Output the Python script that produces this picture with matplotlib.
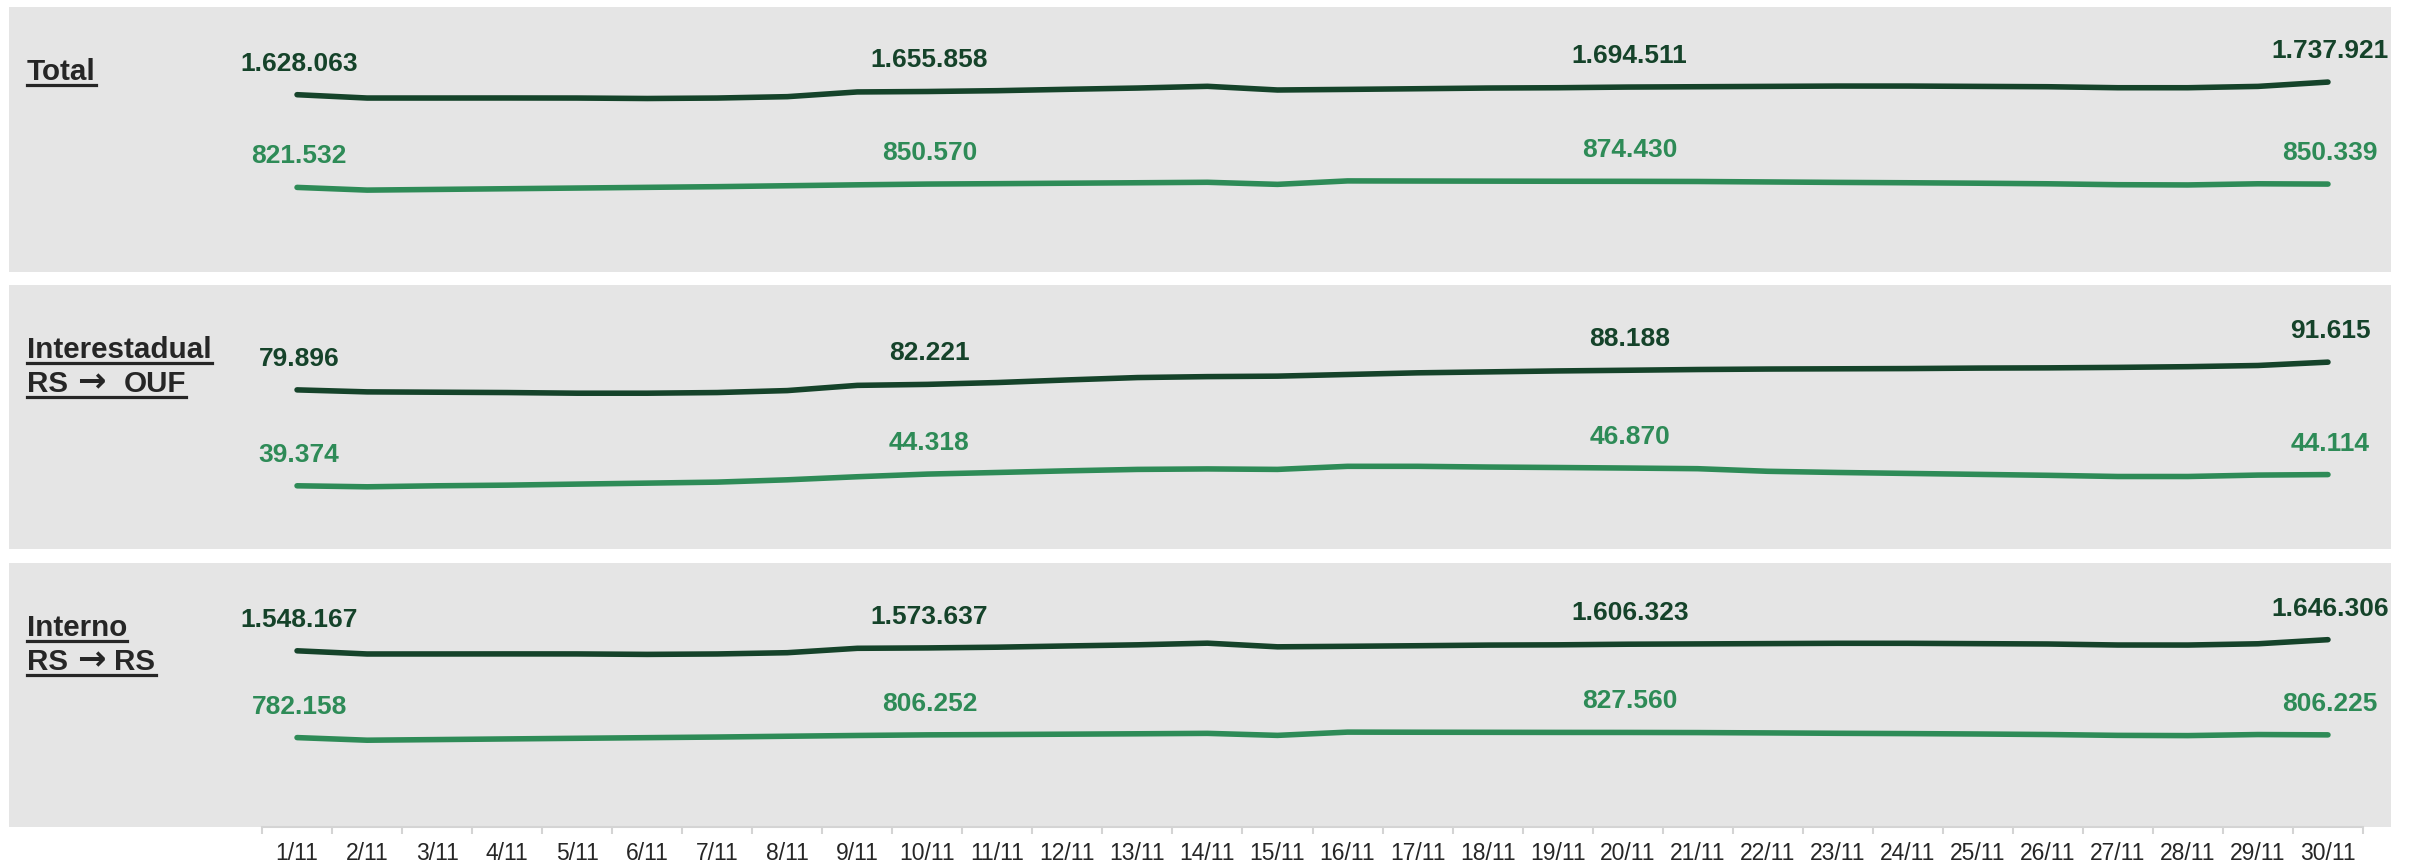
import matplotlib
matplotlib.use("Agg")
import matplotlib.pyplot as plt
from matplotlib.lines import Line2D

plt.rcParams["font.family"] = ["Liberation Sans", "DejaVu Sans"]

# daily values, November
days = list(range(1, 31))
day_labels = [f"{d}/11" for d in days]
label_days = [1, 10, 20, 30]

total_dark = [1628063, 1599100, 1599100, 1599500, 1599000, 1595000, 1599000, 1611000, 1652000, 1655858,
              1663000, 1675000, 1686000, 1701000, 1669000, 1674200, 1680000, 1686000, 1688700, 1694511,
              1697400, 1700300, 1703200, 1703200, 1700300, 1697400, 1688700, 1688700, 1700300, 1737921]
total_light = [821532, 798000, 804000, 810000, 816000, 822000, 828000, 836000, 844000, 850570,
               854000, 858000, 862000, 866000, 848000, 878000, 877000, 876000, 875000, 874430,
               873000, 869000, 865000, 862000, 858000, 853000, 845000, 843000, 853000, 850339]

inter_dark = [79896, 79050, 78910, 78770, 78490, 78490, 78770, 79600, 81800, 82221,
              83000, 84100, 85100, 85500, 85700, 86400, 87100, 87500, 87900, 88188,
              88500, 88700, 88800, 88900, 89100, 89200, 89400, 89700, 90200, 91615]
inter_light = [39374, 38950, 39374, 39650, 40090, 40500, 40930, 41900, 43200, 44318,
               45000, 45700, 46300, 46500, 46300, 47600, 47600, 47300, 47100, 46870,
               46600, 45500, 45000, 44600, 44200, 43800, 43300, 43300, 43900, 44114]

interno_dark = [1548167, 1520050, 1520190, 1520730, 1520510, 1516510, 1520230, 1531400, 1570200, 1573637,
                1580000, 1590900, 1600900, 1615500, 1583300, 1587800, 1592900, 1598500, 1600800, 1606323,
                1608900, 1611600, 1614400, 1614300, 1611200, 1608200, 1599300, 1599000, 1610100, 1646306]
interno_light = [782158, 759050, 764626, 770350, 775910, 781500, 787070, 794100, 800800, 806252,
                 809000, 812300, 815700, 819500, 801700, 830400, 829400, 828700, 827900, 827560,
                 826400, 823500, 820000, 817400, 813800, 809200, 801700, 799700, 809100, 806225]

titles = [["Total"], ["Interestadual", "RS \u2192  OUF"], ["Interno", "RS \u2192 RS"]]

DARK = "#15432A"
LIGHT = "#2E8B57"
BG = "#E5E5E5"
TXT = "#262626"
ARROW = "\u2192"

W, H = 2412, 866
fig = plt.figure(figsize=(W / 100, H / 100), dpi=100)
r = fig.canvas.get_renderer()

panels = [
    (titles[0], total_dark, total_light, (85553, 2391053), 7, 272),
    (titles[1], inter_dark, inter_light, (12671, 124206), 285, 549),
    (titles[2], interno_dark, interno_light, (-6973, 2323095), 563, 827),
]


def fmt(v):
    return f"{v:,}".replace(",", ".")


def title_line(x_px, yb, line):
    # liberation's arrow is tiny, so the arrow gets drawn in DejaVu, piece by piece
    if ARROW in line:
        left, right = line.split(ARROW)
        pieces = [(left.rstrip(), "Liberation Sans", 0, 21.3),
                  (ARROW, "DejaVu Sans", 8 * (len(left) - len(left.rstrip())) + 1, 24.5),
                  (right.lstrip(), "Liberation Sans", 9 * (len(right) - len(right.lstrip())), 21.3)]
    else:
        pieces = [(line, "Liberation Sans", 0, 21.3)]
    x = x_px
    for txt, fam, gap, size in pieces:
        x += gap
        t = fig.text(x / W, yb, txt, fontsize=size, fontweight="bold", color=TXT,
                     va="baseline", ha="left", family=fam)
        x = t.get_window_extent(r).x1
    yu = yb - 4.5 / H
    fig.add_artist(Line2D([x_px / W, x / W], [yu, yu], transform=fig.transFigure, color=TXT, lw=2.3))


for i, (ttl, dark, light, ylim, top, bot) in enumerate(panels):
    ax = fig.add_axes([9 / W, (H - bot) / H, 2382 / W, (bot - top) / H])
    ax.set_facecolor(BG)
    for vals, col in [(dark, DARK), (light, LIGHT)]:
        ax.plot(days, vals, color=col, lw=4.0, solid_capstyle="round", solid_joinstyle="round")
        for d in label_days:
            ax.annotate(fmt(vals[d - 1]), (d, vals[d - 1]), xytext=(1.5, 17.3), textcoords="offset points",
                        ha="center", va="baseline", fontsize=19, fontweight="bold", color=col)
    ax.set_xlim(-3.113, 30.9)
    ax.set_ylim(*ylim)
    ax.set_yticks([])
    for s in ax.spines.values():
        s.set_visible(False)
    if i == 2:
        ax.spines["bottom"].set_visible(True)
        ax.spines["bottom"].set_color("#D4D4D4")
        ax.spines["bottom"].set_linewidth(1.5)
        ax.spines["bottom"].set_bounds(0.5, 30.5)
        ax.set_xticks(days)
        ax.set_xticklabels(day_labels)
        ax.set_xticks([d - 0.5 for d in days] + [30.5], minor=True)
        ax.tick_params(axis="x", which="major", length=0, pad=11, labelsize=16.5, labelcolor="#262626")
        ax.tick_params(axis="x", which="minor", length=5, width=1.5, color="#D4D4D4")
    else:
        ax.set_xticks([])

    for j, line in enumerate(ttl):
        title_line(27, 1 - (top + 73 + j * 34.5) / H, line)

fig.savefig("out.png", dpi=100)
